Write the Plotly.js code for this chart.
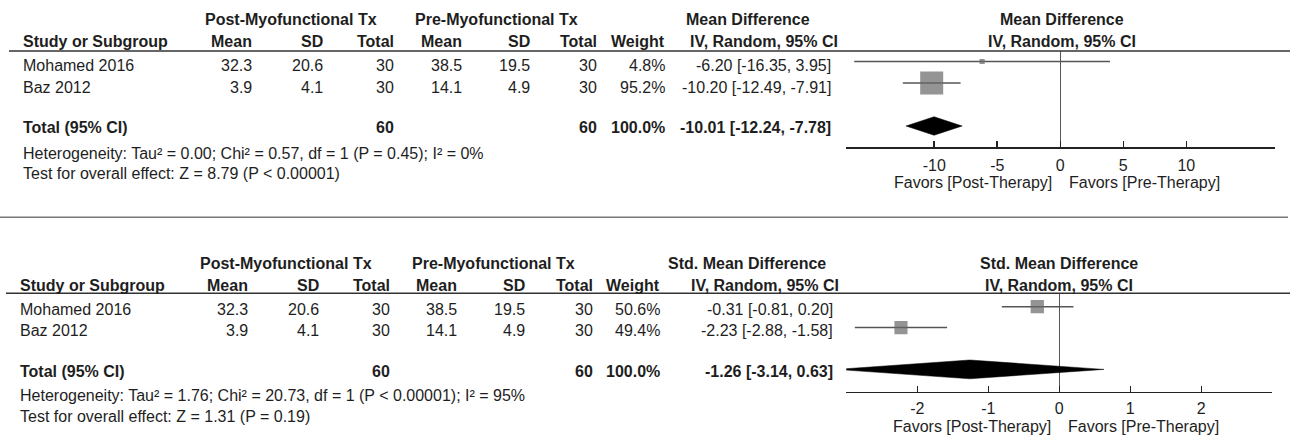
<!DOCTYPE html>
<html>
<head>
<meta charset="utf-8">
<script src="https://cdn.plot.ly/plotly-3.0.1.min.js"></script>
<style>html,body{margin:0;padding:0;background:#fff;}#chart{width:1290px;height:436px;}</style>
</head>
<body>
<div id="chart"></div>
<script>
// ---- data ----
const studies = ["Mohamed 2016", "Baz 2012"];
const postMean = [32.3, 3.9];
const postSD = [20.6, 4.1];
const postN = [30, 30];
const preMean = [38.5, 14.1];
const preSD = [19.5, 4.9];
const preN = [30, 30];

const mdWeight = [4.8, 95.2];
const mdEst = [-6.20, -10.20];
const mdLo = [-16.35, -12.49];
const mdHi = [3.95, -7.91];
const mdTotal = [-10.01, -12.24, -7.78];
const mdHet = "Heterogeneity: Tau² = 0.00; Chi² = 0.57, df = 1 (P = 0.45); I² = 0%";
const mdTest = "Test for overall effect: Z = 8.79 (P < 0.00001)";
const mdTicks = [-10, -5, 0, 5, 10];

const smdWeight = [50.6, 49.4];
const smdEst = [-0.31, -2.23];
const smdLo = [-0.81, -2.88];
const smdHi = [0.20, -1.58];
const smdTotal = [-1.26, -3.14, 0.63];
const smdHet = "Heterogeneity: Tau² = 1.76; Chi² = 20.73, df = 1 (P < 0.00001); I² = 95%";
const smdTest = "Test for overall effect: Z = 1.31 (P = 0.19)";
const smdTicks = [-2, -1, 0, 1, 2];

const groupA = "Post-Myofunctional Tx";
const groupB = "Pre-Myofunctional Tx";
const favLeft = "Favors [Post-Therapy]";
const favRight = "Favors [Pre-Therapy]";

// ---- helpers ----
const W = 1290, H = 436;
const px = x => x / W;
const py = y => 1 - y / H;
const FONT = "Liberation Sans, Arial, sans-serif";
const FS = 16;
const TXT = "#1e1e1e";
const f2 = v => v.toFixed(2);
const ci = (e, l, h) => `${f2(e)} [${f2(l)}, ${f2(h)}]`;
const sum = a => a.reduce((s, v) => s + v, 0);

const annotations = [];
function txt(text, x, y, anchor, bold) {
  annotations.push({
    text: bold ? `<b>${text}</b>` : text,
    xref: "paper", yref: "paper", x: px(x), y: py(y),
    xanchor: anchor, yanchor: "middle", showarrow: false,
    borderpad: 0, borderwidth: 0,
    font: {family: FONT, size: FS, color: TXT}
  });
}

function panel(cfg) {
  const c = cfg.cols;
  txt(groupA, c.groupA, cfg.yG, "center", true);
  txt(groupB, c.groupB, cfg.yG, "center", true);
  txt(cfg.title, c.title, cfg.yG, "center", true);
  txt(cfg.title, c.rTitle, cfg.yG, "center", true);
  txt("Study or Subgroup", c.left, cfg.yH, "left", true);
  txt("Mean", c.m1, cfg.yH, "right", true);
  txt("SD", c.s1, cfg.yH, "right", true);
  txt("Total", c.n1, cfg.yH, "right", true);
  txt("Mean", c.m2, cfg.yH, "right", true);
  txt("SD", c.s2, cfg.yH, "right", true);
  txt("Total", c.n2, cfg.yH, "right", true);
  txt("Weight", c.w, cfg.yH, "right", true);
  txt("IV, Random, 95% CI", c.ciH, cfg.yH, "right", true);
  txt("IV, Random, 95% CI", c.rTitle, cfg.yH, "center", true);
  studies.forEach((s, i) => {
    const y = cfg.yRows[i];
    txt(s, c.left, y, "left");
    txt(postMean[i].toFixed(1), c.m1, y, "right");
    txt(postSD[i].toFixed(1), c.s1, y, "right");
    txt(String(postN[i]), c.n1, y, "right");
    txt(preMean[i].toFixed(1), c.m2, y, "right");
    txt(preSD[i].toFixed(1), c.s2, y, "right");
    txt(String(preN[i]), c.n2, y, "right");
    txt(cfg.weight[i].toFixed(1) + "%", c.w, y, "right");
    txt(ci(cfg.est[i], cfg.lo[i], cfg.hi[i]), c.ci, y, "right");
  });
  txt("Total (95% CI)", c.left, cfg.yT, "left", true);
  txt(String(sum(postN)), c.n1, cfg.yT, "right", true);
  txt(String(sum(preN)), c.n2, cfg.yT, "right", true);
  txt(sum(cfg.weight).toFixed(1) + "%", c.w, cfg.yT, "right", true);
  txt(ci(cfg.total[0], cfg.total[1], cfg.total[2]), c.ci, cfg.yT, "right", true);
  txt(cfg.het, c.left, cfg.yHet, "left");
  txt(cfg.test, c.left, cfg.yTest, "left");
  // favours labels tied to axis zero
  annotations.push({text: favLeft, xref: cfg.xa, yref: "paper", x: 0, y: py(cfg.yFav),
    xanchor: "right", yanchor: "middle", xshift: -7, showarrow: false, borderpad: 0,
    font: {family: FONT, size: FS, color: TXT}});
  annotations.push({text: favRight, xref: cfg.xa, yref: "paper", x: 0, y: py(cfg.yFav),
    xanchor: "left", yanchor: "middle", xshift: 8, showarrow: false, borderpad: 0,
    font: {family: FONT, size: FS, color: TXT}});
}

panel({
  title: "Mean Difference", xa: "x",
  cols: {left: 22.7, groupA: 290.8, groupB: 497, title: 748, rTitle: 1062,
         m1: 252, s1: 323, n1: 394, m2: 461.7, s2: 529.5, n2: 597, w: 665, ci: 831.5, ciH: 838},
  yG: 20, yH: 41.7, yRows: [65.7, 87.7], yT: 127.7, yHet: 153, yTest: 173.7, yFav: 182.7,
  weight: mdWeight, est: mdEst, lo: mdLo, hi: mdHi, total: mdTotal, het: mdHet, test: mdTest
});
panel({
  title: "Std. Mean Difference", xa: "x2",
  cols: {left: 20, groupA: 286, groupB: 493.3, title: 747.3, rTitle: 1059.3,
         m1: 248.3, s1: 319.3, n1: 390, m2: 456.7, s2: 525, n2: 592.7, w: 660, ci: 833.3, ciH: 839.3},
  yG: 263.3, yH: 285, yRows: [309, 330], yT: 371.7, yHet: 395.7, yTest: 416.7, yFav: 426.7,
  weight: smdWeight, est: smdEst, lo: smdLo, hi: smdHi, total: smdTotal, het: smdHet, test: smdTest
});

// ---- forest traces ----
const rowIdx = [1, 2];
const totalRow = 4;
function forest(xa, ya, est, lo, hi, weight, total, k, halfH) {
  const lx = [], ly = [];
  est.forEach((e, i) => { lx.push(lo[i], hi[i], null); ly.push(rowIdx[i], rowIdx[i], null); });
  return [
    {type: "scatter", mode: "lines", x: lx, y: ly, xaxis: xa, yaxis: ya,
     line: {color: "#555", width: 1.5}, hoverinfo: "skip"},
    {type: "scatter", mode: "markers", x: est, y: rowIdx, xaxis: xa, yaxis: ya,
     marker: {symbol: "square", color: "#666", size: weight.map(w => k * Math.sqrt(w)), line: {width: 0}}},
    {type: "scatter", mode: "lines", fill: "toself", fillcolor: "#000",
     x: [total[1], total[0], total[2], total[0], total[1]],
     y: [totalRow, totalRow - halfH, totalRow, totalRow + halfH, totalRow],
     xaxis: xa, yaxis: ya, line: {color: "#000", width: 0.5}}
  ];
}
const data = [
  ...forest("x", "y", mdEst, mdLo, mdHi, mdWeight, mdTotal, 2.36, 0.43),
  ...forest("x2", "y2", smdEst, smdLo, smdHi, smdWeight, smdTotal, 1.87, 0.45)
];

function xaxisCfg(domain, range, ticks, anchor, standoff) {
  return {domain, range, anchor, tickvals: ticks, ticktext: ticks.map(String),
    ticks: "inside", ticklen: 6, tickwidth: 1.5, tickcolor: "#222",
    showline: true, linecolor: "#222", linewidth: 1.5, mirror: false,
    zeroline: true, zerolinecolor: "#555", zerolinewidth: 1.5,
    showgrid: false, fixedrange: true, ticklabelstandoff: standoff,
    tickfont: {family: FONT, size: FS, color: TXT}};
}
function yaxisCfg(domain, range, anchor) {
  return {domain, range, anchor, visible: false, showgrid: false, zeroline: false, fixedrange: true};
}

const layout = {
  width: W, height: H, margin: {l: 0, r: 0, t: 0, b: 0},
  paper_bgcolor: "#fff", plot_bgcolor: "rgba(0,0,0,0)", showlegend: false,
  xaxis: xaxisCfg([846 / W, 1274.5 / W], [-17, 17], mdTicks, "y", 3),
  yaxis: yaxisCfg([py(147), py(51)], [4.977, 0.512], "x"),
  xaxis2: xaxisCfg([846.3 / W, 1272.3 / W], [-3, 3], smdTicks, "y2", 2),
  yaxis2: yaxisCfg([py(391.7), py(293.3)], [5.067, 0.359], "x2"),
  annotations,
  shapes: [
    {type: "line", xref: "paper", yref: "paper", x0: px(9), x1: 1, y0: py(51), y1: py(51), line: {color: "#333", width: 1.5}},
    {type: "line", xref: "paper", yref: "paper", x0: px(6), x1: 1, y0: py(293.3), y1: py(293.3), line: {color: "#333", width: 1.5}},
    {type: "line", xref: "paper", yref: "paper", x0: 0, x1: px(1288), y0: py(217.3), y1: py(217.3), line: {color: "#777", width: 1.5}}
  ]
};

Plotly.newPlot("chart", data, layout, {staticPlot: true, displayModeBar: false});
</script>
</body>
</html>
